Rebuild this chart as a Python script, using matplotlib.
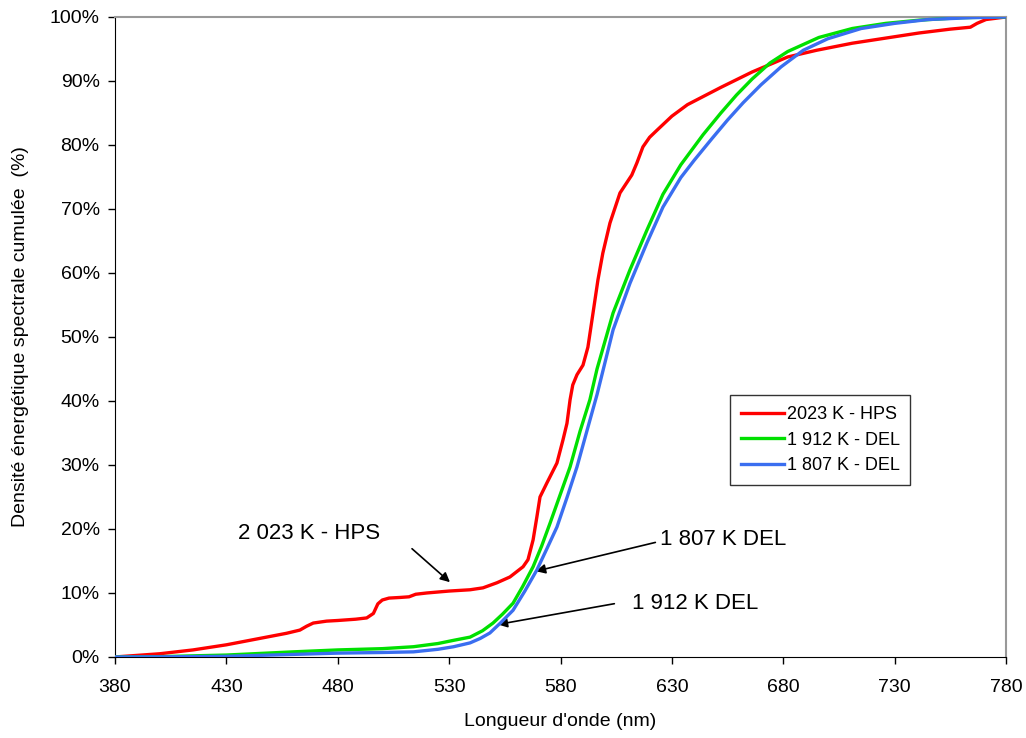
import numpy as np
import matplotlib.pyplot as plt
from matplotlib.ticker import FuncFormatter

plt.rcParams['font.family'] = ['Liberation Sans', 'DejaVu Sans']

# ---------------------------------------------
# Cumulative spectral energy density (read off)
# ---------------------------------------------
hps_nm = [380, 400, 415, 430, 445, 457, 463, 466, 469, 475, 480, 488, 493, 496, 498,
          500, 503, 508, 512, 515, 520, 530, 539.4, 545.2, 551.5, 557.3, 563.2, 565.4,
          567.7, 569.4, 570.8, 573.9, 578.4, 581.1, 582.9, 584.3, 585.5, 587.4, 590.1,
          592.3, 594.6, 596.8, 599, 602.2, 606.7, 612, 614.3, 617, 620, 623.3, 630,
          637, 652, 666, 682, 695, 711, 726, 741, 755, 764, 767, 771, 780]
hps_pct = [0, 0.5, 1.1, 1.9, 2.9, 3.7, 4.2, 4.8, 5.3, 5.6, 5.7, 5.9, 6.1, 6.8, 8.3,
           8.9, 9.2, 9.3, 9.4, 9.8, 10.0, 10.3, 10.5, 10.8, 11.6, 12.5, 14.1, 15.2,
           18.3, 21.9, 25, 27.2, 30.3, 33.9, 36.5, 40.2, 42.5, 44.1, 45.6,
           48.4, 53.75, 58.9, 63.1, 67.8, 72.5, 75.3, 77.2, 79.7, 81.2, 82.3, 84.5,
           86.3, 89, 91.4, 93.75, 94.8, 95.9, 96.7, 97.5, 98.1, 98.4, 99.0, 99.6, 100]

del1912_nm = [380, 400, 430, 460, 480, 500, 514, 525, 532, 539.4, 545, 549.7, 554,
              558.7, 563, 567.7, 571.5, 575.3, 580, 584.3, 588.8, 593.2, 596.4,
              603.6, 611.2, 618.8, 626, 634, 644, 652, 659, 666, 674, 682, 696, 711,
              726, 741, 760, 780]
del1912_pct = [0, 0.05, 0.3, 0.8, 1.1, 1.3, 1.6, 2.1, 2.6, 3.1, 4.1, 5.3, 6.7,
               8.4, 11, 14.1, 17.3, 20.9, 25.5, 29.7, 35.3, 40.2, 45.0,
               53.75, 60.5, 66.7, 72.3, 76.9, 81.6, 85.0, 87.8, 90.3, 92.8, 94.6, 96.8,
               98.2, 99.0, 99.5, 99.9, 100]

del1807_nm = [380, 400, 430, 460, 480, 500, 514, 525, 532, 539.4, 544, 548.3, 553,
              558.7, 564, 569.4, 574, 578.4, 583, 587.4, 592, 596.4, 603.6, 611.2,
              618.8, 626, 634, 640, 648, 655, 662, 670, 679, 689, 700, 715, 730, 745,
              765, 780]
del1807_pct = [0, 0.02, 0.1, 0.4, 0.6, 0.7, 0.8, 1.2, 1.6, 2.2, 2.9, 3.75, 5.3,
               7.3, 10.3, 13.6, 17, 20.3, 25, 29.7, 35.5, 41, 51.1, 58.4,
               64.7, 70.3, 74.9, 77.6, 81.0, 83.9, 86.6, 89.4, 92.2, 94.8, 96.6, 98.2,
               99.0, 99.6, 99.9, 100]

x_ticks = np.arange(380, 781, 50)
y_ticks = np.arange(0, 101, 10)

# --------------------
# Plot
# --------------------
fig = plt.figure(figsize=(10.26, 7.38), dpi=100)
ax = fig.add_axes([0.1121, 0.1098, 0.8684, 0.8672])

ax.plot(hps_nm, hps_pct, color='#ff0000', lw=2.4, label='2023 K - HPS', zorder=3)
ax.plot(del1912_nm, del1912_pct, color='#00e000', lw=2.4, label='1 912 K - DEL', zorder=3)
ax.plot(del1807_nm, del1807_pct, color='#3a6ef0', lw=2.4, label='1 807 K - DEL', zorder=4)

ax.set_xlim(380, 780)
ax.set_ylim(0, 100)
ax.set_xticks(x_ticks)
ax.set_yticks(y_ticks)
ax.yaxis.set_major_formatter(FuncFormatter(lambda v, p: f'{v:.0f}%'))
ax.tick_params(direction='out', length=5, width=1, labelsize=14, color='black')
ax.tick_params(axis='x', pad=11)
ax.tick_params(axis='y', pad=6)

for s in ['top', 'right']:
    ax.spines[s].set_color('#999999')
    ax.spines[s].set_linewidth(1.5)
for s in ['left', 'bottom']:
    ax.spines[s].set_color('black')

ax.set_xlabel("Longueur d'onde (nm)", fontsize=14, labelpad=12)
ax.set_ylabel('Densité énergétique spectrale cumulée  (%)', fontsize=14, labelpad=15)

leg = ax.legend(loc='upper left', bbox_to_anchor=(0.690, 0.409), fontsize=13,
                frameon=True, fancybox=False, edgecolor='black', handlelength=2.4,
                handletextpad=0.15, borderpad=0.6, labelspacing=0.48, borderaxespad=0)
leg.get_frame().set_linewidth(1.0)

arrow = dict(arrowstyle='-|>', color='black', lw=1.2, mutation_scale=14)
ax.annotate('', xy=(531.3, 11.4), xytext=(512.4, 17.2), arrowprops=arrow)
ax.text(466.9, 19.3, '2 023 K - HPS', fontsize=16, ha='center', va='center')

ax.annotate('', xy=(567.7, 13.3), xytext=(623.8, 18.0), arrowprops=arrow)
ax.text(624.7, 18.3, '1 807 K DEL', fontsize=16, ha='left', va='center')

ax.annotate('', xy=(550.6, 5.0), xytext=(605.4, 8.4), arrowprops=arrow)
ax.text(612.1, 8.4, '1 912 K DEL', fontsize=16, ha='left', va='center')

fig.savefig('out.png', dpi=100)
plt.close(fig)
